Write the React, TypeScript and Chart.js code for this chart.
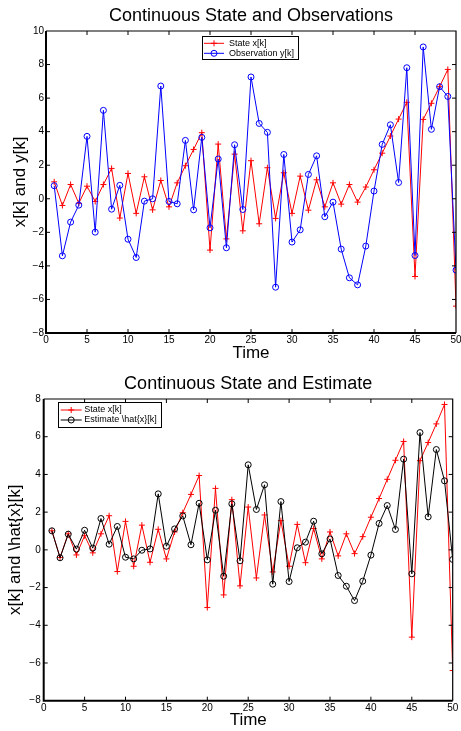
import React, { useEffect, useRef } from 'react';
import { Chart, registerables } from 'chart.js';

Chart.register(...registerables);
Chart.defaults.font.family = '"Liberation Sans", Arial, Helvetica, sans-serif';
Chart.defaults.color = '#000';

// ---------------- data ----------------
const timeSteps = [
  1, 2, 3, 4, 5, 6, 7, 8, 9, 10, 11, 12, 13, 14, 15, 16, 17, 18, 19, 20, 21, 22, 23, 24, 25,
  26, 27, 28, 29, 30, 31, 32, 33, 34, 35, 36, 37, 38, 39, 40, 41, 42, 43, 44, 45, 46, 47, 48, 49, 50,
];

const stateX = [
  1.01, -0.4, 0.85, -0.27, 0.75, -0.16, 0.85, 1.81, -1.15, 1.51, -0.87, 1.31, -0.66, 1.09, -0.48,
  0.95, 1.97, 2.94, 3.94, -3.06, 3.26, -2.39, 2.66, -1.91, 2.27, -1.49, 1.85, -1.17, 1.55, -0.87,
  1.35, -0.68, 1.13, -0.48, 0.95, -0.32, 0.85, -0.2, 0.7, 1.73, 2.72, 3.74, 4.75, 5.75, -4.63,
  4.73, 5.69, 6.68, 7.71, -6.4,
];

const observationY = [
  0.78, -3.4, -1.39, -0.38, 3.72, -1.99, 5.27, -0.62, 0.8, -2.41, -3.5, -0.14, 0.0, 6.72, -0.16,
  -0.3, 3.48, -0.66, 3.66, -1.73, 2.37, -2.92, 3.22, -0.64, 7.26, 4.49, 3.96, -5.27, 2.64, -2.58,
  -1.85, 1.45, 2.56, -1.07, -0.2, -3.0, -4.71, -5.13, -2.82, 0.46, 3.24, 4.41, 0.97, 7.81, -3.38,
  9.05, 4.14, 6.68, 6.1, -4.25,
];

const estimateX = [
  1.01, -0.42, 0.83, 0.04, 1.04, 0.09, 1.66, 0.3, 1.24, -0.39, -0.48, -0.02, 0.05, 2.97, 0.19,
  1.11, 1.8, 0.27, 2.47, -0.53, 2.1, -1.4, 2.44, -0.58, 4.51, 2.14, 3.45, -1.82, 2.56, -1.68,
  0.11, 0.41, 1.52, -0.21, 0.58, -1.36, -1.93, -2.69, -1.66, -0.28, 1.4, 2.35, 1.08, 4.81, -1.27,
  6.22, 1.75, 5.32, 3.66, -0.51,
];

const xTickValues = [0, 5, 10, 15, 20, 25, 30, 35, 40, 45, 50];
const yTickValuesTop = [-8, -6, -4, -2, 0, 2, 4, 6, 8, 10];
const yTickValuesBottom = [-8, -6, -4, -2, 0, 2, 4, 6, 8];

const topTitle = 'Continuous State and Observations';
const bottomTitle = 'Continuous State and Estimate';
const xLabel = 'Time';
const topYLabel = 'x[k] and y[k]';
const bottomYLabel = 'x[k] and \\hat{x}[k]';
const stateLabel = 'State x[k]';
const observationLabel = 'Observation y[k]';
const estimateLabel = 'Estimate \\hat{x}[k]';

// ---------------- plugins ----------------
const fmt = (v: number) => String(v).replace('-', '\u2212');

const framePlugin = {
  id: 'matlabFrame',
  afterDatasetsDraw(chart: any, _args: any, opts: any) {
    const { ctx, chartArea } = chart;
    const { left, right, top, bottom } = chartArea;
    const tl = opts.tickLength ?? 4;
    ctx.save();
    ctx.strokeStyle = '#000';
    ctx.lineWidth = 1;
    const xs = chart.scales.x;
    const ys = chart.scales.y;
    ctx.beginPath();
    xs.ticks.forEach((t: any) => {
      const px = xs.getPixelForValue(t.value);
      if (Math.abs(px - left) < 1 || Math.abs(px - right) < 1) return;
      ctx.moveTo(px, bottom);
      ctx.lineTo(px, bottom - tl);
      ctx.moveTo(px, top);
      ctx.lineTo(px, top + tl);
    });
    ys.ticks.forEach((t: any) => {
      const py = ys.getPixelForValue(t.value);
      if (Math.abs(py - top) < 1 || Math.abs(py - bottom) < 1) return;
      ctx.moveTo(left, py);
      ctx.lineTo(left + tl, py);
      ctx.moveTo(right, py);
      ctx.lineTo(right - tl, py);
    });
    ctx.stroke();
    // thin top/right
    ctx.lineWidth = 1.2;
    ctx.beginPath();
    ctx.moveTo(left, top);
    ctx.lineTo(right, top);
    ctx.lineTo(right, bottom);
    ctx.stroke();
    // thicker left/bottom
    ctx.lineWidth = 2;
    ctx.beginPath();
    ctx.moveTo(left, top);
    ctx.lineTo(left, bottom);
    ctx.lineTo(right, bottom);
    ctx.stroke();
    ctx.restore();
  },
};

const legendPlugin = {
  id: 'boxLegend',
  afterDatasetsDraw(chart: any, _args: any, o: any) {
    const { ctx } = chart;
    const items = chart.data.datasets;
    ctx.save();
    ctx.font = `${o.fontSize}px "Liberation Sans", Arial, sans-serif`;
    const textW = Math.max(...items.map((d: any) => ctx.measureText(d.label).width));
    const w = o.padLeft + o.lineLength + o.gap + textW + o.padRight;
    const h = o.padTop + o.rowHeight * items.length + o.padBottom;
    ctx.fillStyle = '#fff';
    ctx.fillRect(o.x, o.y, w, h);
    ctx.strokeStyle = '#000';
    ctx.lineWidth = 1;
    ctx.strokeRect(Math.round(o.x) + 0.5, Math.round(o.y) + 0.5, Math.round(w), Math.round(h));
    items.forEach((d: any, i: number) => {
      const cy = o.y + o.padTop + o.rowHeight * (i + 0.5);
      const lx = o.x + o.padLeft;
      ctx.strokeStyle = d.borderColor;
      ctx.lineWidth = 1;
      ctx.beginPath();
      ctx.moveTo(lx, cy);
      ctx.lineTo(lx + o.lineLength, cy);
      ctx.stroke();
      const mx = lx + o.lineLength / 2;
      const r = 3;
      ctx.beginPath();
      if (d.pointStyle === 'cross') {
        ctx.moveTo(mx - r, cy);
        ctx.lineTo(mx + r, cy);
        ctx.moveTo(mx, cy - r);
        ctx.lineTo(mx, cy + r);
      } else {
        ctx.arc(mx, cy, r, 0, Math.PI * 2);
      }
      ctx.stroke();
      ctx.fillStyle = '#000';
      ctx.textAlign = 'left';
      ctx.textBaseline = 'middle';
      ctx.fillText(d.label, lx + o.lineLength + o.gap, cy);
    });
    ctx.restore();
  },
};

// ---------------- panel ----------------
type Geometry = {
  height: number;
  yWidth: number;
  padRight: number;
  titleTop: number;
  titleBottom: number;
  xHeight: number;
  xTickPad: number;
  xTitleBottom: number;
  yTitlePad: number;
  yTickPad: number;
  legend: any;
};

function Panel(props: {
  top: number;
  geo: Geometry;
  title: string;
  yLabel: string;
  yMin: number;
  yMax: number;
  yTicks: number[];
  datasets: any[];
}) {
  const ref = useRef<HTMLCanvasElement>(null);
  const { geo } = props;
  useEffect(() => {
    if (!ref.current) return;
    const chart = new Chart(ref.current, {
      type: 'line',
      data: { datasets: props.datasets },
      options: {
        animation: false,
        responsive: false,
        devicePixelRatio: 1,
        events: [],
        layout: { padding: { left: 0, right: geo.padRight, top: 0, bottom: 0 } },
        plugins: {
          legend: { display: false },
          tooltip: { enabled: false },
          title: {
            display: true,
            text: props.title,
            color: '#000',
            fullSize: false,
            font: { size: 18, weight: 'normal', lineHeight: 1.2 },
            padding: { top: geo.titleTop, bottom: geo.titleBottom },
          },
          matlabFrame: { tickLength: 4 },
          boxLegend: geo.legend,
        } as any,
        scales: {
          x: {
            type: 'linear',
            min: 0,
            max: 50,
            afterBuildTicks: (s: any) => {
              s.ticks = xTickValues.map((v) => ({ value: v }));
            },
            ticks: {
              autoSkip: false,
              maxRotation: 0,
              color: '#000',
              font: { size: 10, lineHeight: 1.2 },
              padding: geo.xTickPad,
              callback: (v: any) => fmt(v),
            },
            grid: { display: false, drawTicks: false },
            border: { display: false },
            title: {
              display: true,
              text: xLabel,
              color: '#000',
              font: { size: 17, lineHeight: 1.2 },
              padding: { top: 0, bottom: geo.xTitleBottom },
            },
            afterFit: (s: any) => {
              s.height = geo.xHeight;
              s.paddingLeft = 0;
              s.paddingRight = 0;
            },
          },
          y: {
            type: 'linear',
            min: props.yMin,
            max: props.yMax,
            afterBuildTicks: (s: any) => {
              s.ticks = props.yTicks.map((v) => ({ value: v }));
            },
            ticks: {
              autoSkip: false,
              color: '#000',
              font: { size: 10, lineHeight: 1.2 },
              padding: geo.yTickPad,
              callback: (v: any) => fmt(v),
            },
            grid: { display: false, drawTicks: false },
            border: { display: false },
            title: {
              display: true,
              text: props.yLabel,
              color: '#000',
              font: { size: 17, lineHeight: 1.2 },
              padding: { top: geo.yTitlePad, bottom: 0 },
            },
            afterFit: (s: any) => {
              s.width = geo.yWidth;
              s.paddingTop = 0;
              s.paddingBottom = 0;
            },
          },
        },
      },
      plugins: [framePlugin, legendPlugin],
    } as any);
    return () => chart.destroy();
  }, []);
  return (
    <canvas
      ref={ref}
      width={461}
      height={geo.height}
      style={{ position: 'absolute', left: 0, top: props.top, width: 461, height: geo.height }}
    />
  );
}

const series = (values: number[]) => timeSteps.map((t, i) => ({ x: t, y: values[i] }));

const redStyle = {
  borderColor: '#ff0000',
  backgroundColor: '#ff0000',
  borderWidth: 1,
  pointStyle: 'cross',
  pointRadius: 3,
  pointBorderWidth: 1,
  pointBorderColor: '#ff0000',
  tension: 0,
  order: 2,
};

const circleStyle = (color: string) => ({
  borderColor: color,
  backgroundColor: 'rgba(0,0,0,0)',
  borderWidth: 1,
  pointStyle: 'circle',
  pointRadius: 3,
  pointBorderWidth: 1,
  pointBorderColor: color,
  pointBackgroundColor: 'rgba(0,0,0,0)',
  tension: 0,
  order: 1,
});

const topGeo: Geometry = {
  height: 364,
  yWidth: 46,
  padRight: 4,
  titleTop: 5.5,
  titleBottom: 3.9,
  xHeight: 31,
  xTickPad: 1,
  xTitleBottom: 0.5,
  yTitlePad: 10,
  yTickPad: 2,
  legend: { x: 202, y: 35.7, fontSize: 9, rowHeight: 10, padTop: 2.6, padBottom: 0.2, padLeft: 2, lineLength: 20, gap: 5, padRight: 3.5 },
};

const bottomGeo: Geometry = {
  height: 367,
  yWidth: 43.7,
  padRight: 8.3,
  titleTop: 9.7,
  titleBottom: 3.7,
  xHeight: 30.3,
  xTickPad: 1.1,
  xTitleBottom: 0,
  yTitlePad: 5,
  yTickPad: 3,
  legend: { x: 58.3, y: 38.3, fontSize: 9, rowHeight: 10, padTop: 2.7, padBottom: 2.7, padLeft: 2.4, lineLength: 21, gap: 2.6, padRight: 4.5 },
};

export default function App() {
  return (
    <div style={{ position: 'fixed', left: 0, top: 0, width: 461, height: 731, background: '#fff' }}>
      <Panel
        top={0}
        geo={topGeo}
        title={topTitle}
        yLabel={topYLabel}
        yMin={-8}
        yMax={10}
        yTicks={yTickValuesTop}
        datasets={[
          { label: stateLabel, data: series(stateX), ...redStyle },
          { label: observationLabel, data: series(observationY), ...circleStyle('#0000ff') },
        ]}
      />
      <Panel
        top={364}
        geo={bottomGeo}
        title={bottomTitle}
        yLabel={bottomYLabel}
        yMin={-8}
        yMax={8}
        yTicks={yTickValuesBottom}
        datasets={[
          { label: stateLabel, data: series(stateX), ...redStyle },
          { label: estimateLabel, data: series(estimateX), ...circleStyle('#000000') },
        ]}
      />
    </div>
  );
}
